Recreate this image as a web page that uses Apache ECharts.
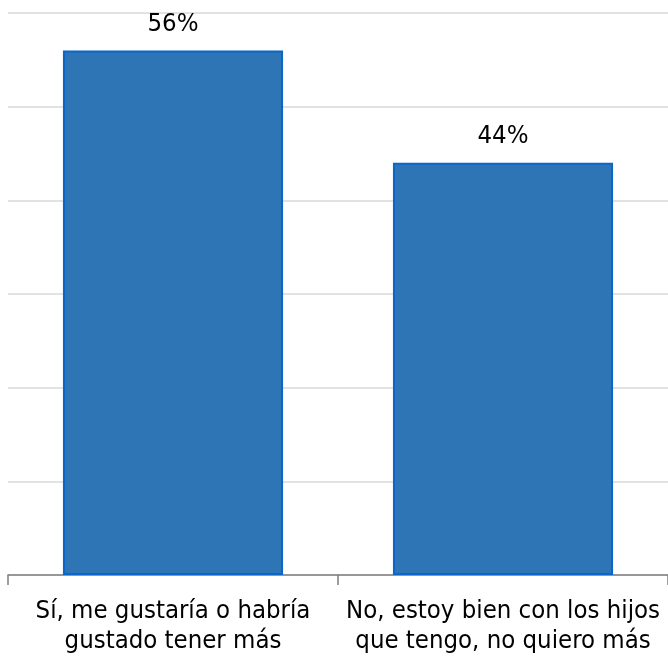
<!DOCTYPE html>
<html><head><meta charset="utf-8">
<script src="https://cdn.jsdelivr.net/npm/echarts@6/dist/echarts.min.js"></script>
<style>html,body{margin:0;padding:0;background:#fff}#c{width:668px;height:656px}</style>
</head><body><div id="c"></div>
<script>
const categories = ["Sí, me gustaría o habría\ngustado tener más", "No, estoy bien con los hijos\nque tengo, no quiero más"];
const values = [56, 44];
const yMin = 0, yMax = 60, yStep = 10;

const chart = echarts.init(document.getElementById('c'));
chart.setOption({
  animation: false,
  grid: {left: 8, right: 0, top: 13, bottom: 81, containLabel: false},
  xAxis: {
    type: 'category', data: categories,
    axisLine: {lineStyle: {color: '#7f7f7f', width: 1.5}},
    axisTick: {show: true, length: 10, lineStyle: {color: '#7f7f7f', width: 1.5}},
    axisLabel: {color: '#000', fontFamily: '"DejaVu Sans Condensed", "DejaVu Sans"', fontSize: 25.5, lineHeight: 30, margin: 21, interval: 0}
  },
  yAxis: {
    type: 'value', min: yMin, max: yMax, interval: yStep,
    axisLabel: {show: false}, axisLine: {show: false}, axisTick: {show: false},
    splitLine: {lineStyle: {color: '#d9d9d9', width: 1.5}}
  },
  series: [{
    type: 'bar', data: values, barWidth: '66.7%',
    itemStyle: {color: '#2E75B6', borderColor: '#0A66CC', borderWidth: 2},
    label: {show: true, position: 'top', distance: 13, formatter: '{c}%', color: '#000', fontFamily: '"DejaVu Sans Condensed", "DejaVu Sans"', fontSize: 25.5}
  }]
});
</script></body></html>
